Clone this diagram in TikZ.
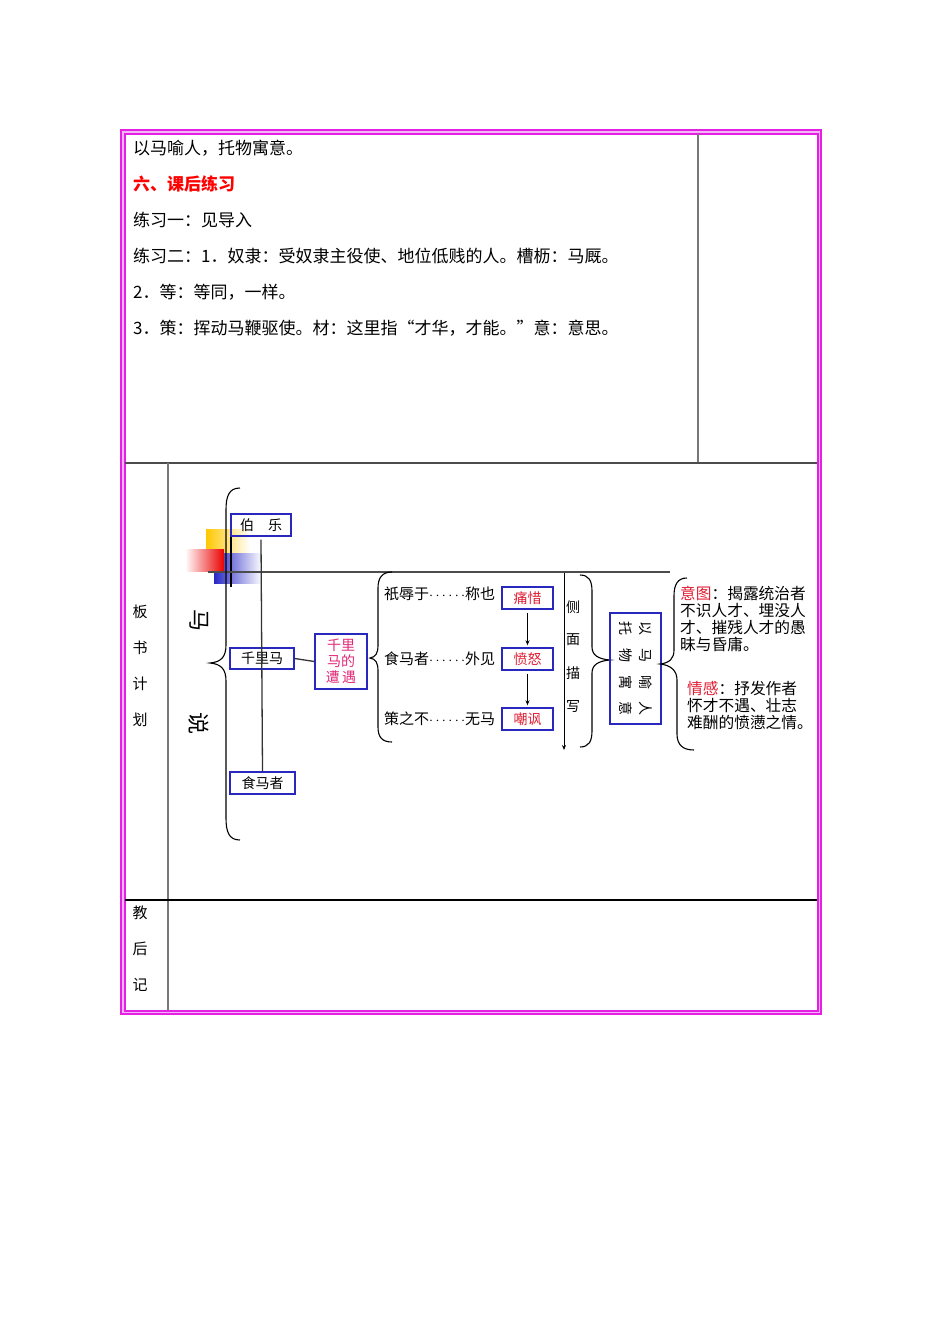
\documentclass[tikz,border=0pt]{standalone}
\usepackage{fontspec}
\setmainfont{Noto Sans CJK SC}
\usetikzlibrary{arrows.meta}
\definecolor{mag}{RGB}{228,32,228}
\definecolor{magl}{RGB}{245,180,245}
\definecolor{boxblue}{RGB}{40,40,190}
\definecolor{txtred}{RGB}{225,30,50}
\definecolor{pinkred}{RGB}{225,40,120}
\definecolor{gold}{RGB}{255,200,0}
\definecolor{sqred}{RGB}{235,0,0}
\definecolor{sqblue}{RGB}{40,40,200}
\definecolor{rulegray}{RGB}{120,120,120}
\newcommand{\dotsmid}{$\cdots\cdots$}
\tikzset{
  box/.style={draw=boxblue, line width=1.4pt, inner sep=0pt, font=\fontsize{14}{16}\selectfont},
  bodytext/.style={anchor=west, inner sep=0pt, font=\fontsize{17}{20}\selectfont},
  smalltext/.style={anchor=west, inner sep=0pt, font=\fontsize{15}{16}\selectfont},
  sidelabel/.style={inner sep=0pt, font=\fontsize{15}{18}\selectfont},
  brace/.style={draw=black, line width=1.1pt},
  conn/.style={draw=black!80, line width=1.3pt},
  arrowline/.style={draw=black, line width=0.9pt, -{Stealth[length=5pt,width=4pt]}}
}
\begin{document}
\begin{tikzpicture}[x=1pt,y=-1pt]
\useasboundingbox (0,0) rectangle (950,1344);
\fill[white] (0,0) rectangle (950,1344);

% ---------- table frame ----------
\fill[magl] (121,130) rectangle (821,1014);
\fill[white] (125,134) rectangle (817,1010);
\draw[mag, line width=1.6pt] (121,130) rectangle (821,1014);
\draw[mag, line width=2pt] (124.5,133.5) rectangle (817.5,1010.5);
\draw[rulegray, line width=1.2pt] (698,134) -- (698,463);
\draw[black!70, line width=1.2pt] (125,463) -- (817,463);
\draw[rulegray, line width=1.2pt] (168,463) -- (168,1010);
\draw[black, line width=1.2pt] (125,900) -- (817,900);

% ---------- top text ----------
\node[bodytext] (t1) at (133,148) {以马喻人，托物寓意。};
\node[bodytext, text=red, font=\fontsize{17}{20}\selectfont\bfseries] (t2) at (133,184) {六、课后练习};
\node[bodytext] (t3) at (133,220) {练习一：见导入};
\node[bodytext] (t4) at (133,256) {练习二：1．奴隶：受奴隶主役使、地位低贱的人。槽枥：马厩。};
\node[bodytext] (t5) at (133,292) {2．等：等同，一样。};
\node[bodytext] (t6) at (133,328) {3．策：挥动马鞭驱使。材：这里指“才华，才能。”意：意思。};

% ---------- side labels ----------
\node[sidelabel] (b1) at (140,612) {板};
\node[sidelabel] (b2) at (140,648) {书};
\node[sidelabel] (b3) at (140,684) {计};
\node[sidelabel] (b4) at (140,720) {划};
\node[sidelabel] (j1) at (140,913) {教};
\node[sidelabel] (j2) at (140,949) {后};
\node[sidelabel] (j3) at (140,985) {记};

% ---------- decorative squares ----------
\shade[left color=gold, right color=white] (206,529) rectangle (250,560);
\shade[left color=sqblue, right color=white] (214,553) rectangle (262,583);
\shade[left color=white, right color=sqred] (185,549) rectangle (224,571);
\draw[black, line width=2.4pt] (231,523) -- (231,587);
\draw[black!70, line width=1.6pt] (208,572) -- (670,572);

% ---------- big brace and title ----------
\draw[brace] (240,488) .. controls (229,488) and (226,496) .. (226,510) -- (226,645)
  .. controls (226,657) and (221,662) .. (210,663)
  .. controls (221,664) and (226,669) .. (226,681) -- (226,818)
  .. controls (226,832) and (229,840) .. (240,840);
\node[rotate=-90, inner sep=0pt, font=\fontsize{22}{24}\selectfont] (ma) at (199,620) {马};
\node[rotate=-90, inner sep=0pt, font=\fontsize{22}{24}\selectfont] (shuo) at (199,723) {说};

% ---------- left boxes ----------
\node[box, minimum width=60pt, minimum height=22pt] (bole) at (261,525) {伯\hspace{14pt}乐};
\node[box, minimum width=64pt, minimum height=21pt] (qlm) at (262,658.5) {千里马};
\node[box, minimum width=65pt, minimum height=22pt] (smz) at (262.5,783) {食马者};
\node[box, minimum width=52pt, minimum height=55pt, align=center, text=pinkred,
      font=\fontsize{14}{16}\selectfont] (zaoyu) at (341,661.5) {千里\\马的\\遭\,遇};
\draw[conn] ([yshift=-3pt]bole.south) -- (smz.north);
\draw[conn] (qlm.east) -- (zaoyu.west);

% ---------- second brace and quotes ----------
\draw[brace] (392,572) .. controls (382,572) and (378,578) .. (378,588) -- (378,645)
  .. controls (378,653) and (376,657) .. (370,658)
  .. controls (376,659) and (378,663) .. (378,671) -- (378,727)
  .. controls (378,737) and (382,742) .. (392,742);
\node[smalltext] (q1) at (384,594) {祇辱于\dotsmid 称也};
\node[smalltext] (q2) at (384,659) {食马者\dotsmid 外见};
\node[smalltext] (q3) at (384,719) {策之不\dotsmid 无马};

% ---------- emotion boxes ----------
\node[box, minimum width=51pt, minimum height=22pt, text=txtred] (tongxi) at (527.5,598) {痛惜};
\node[box, minimum width=51pt, minimum height=22pt, text=txtred] (fennu) at (527.5,659) {愤怒};
\node[box, minimum width=51pt, minimum height=22pt, text=txtred] (chaofeng) at (527.5,719) {嘲讽};
\draw[arrowline] ([yshift=-3pt]tongxi.south) -- ([yshift=2pt]fennu.north);
\draw[arrowline] ([yshift=-3pt]fennu.south) -- ([yshift=2pt]chaofeng.north);

% ---------- side description ----------
\coordinate (vtop) at (564,573);
\coordinate (vbot) at (564,750);
\draw[arrowline] (vtop) -- (vbot);
\node[sidelabel, font=\fontsize{14}{16}\selectfont] (c1) at (573,607) {侧};
\node[sidelabel, font=\fontsize{14}{16}\selectfont] (c2) at (573,640) {面};
\node[sidelabel, font=\fontsize{14}{16}\selectfont] (c3) at (573,673) {描};
\node[sidelabel, font=\fontsize{14}{16}\selectfont] (c4) at (573,706) {写};

% ---------- third brace ----------
\draw[brace] (580,575) .. controls (589,575) and (592,581) .. (592,591) -- (592,647)
  .. controls (592,655) and (598,659) .. (610,660)
  .. controls (598,661) and (592,665) .. (592,673) -- (592,731)
  .. controls (592,741) and (589,747) .. (580,747);

% ---------- rotated box ----------
\node[box, rotate=-90, minimum width=111pt, minimum height=51pt, align=center,
      font=\fontsize{14}{20}\selectfont] (yima) at (635.5,668.5)
  {以\hspace{13pt}马\hspace{13pt}喻\hspace{13pt}人\\托\hspace{13pt}物\hspace{13pt}寓\hspace{13pt}意};

% ---------- fourth brace ----------
\draw[brace] (687,578) .. controls (678,578) and (674,584) .. (674,596) -- (674,650)
  .. controls (674,658) and (670,663) .. (660,664)
  .. controls (670,665) and (677,670) .. (677,680) -- (677,734)
  .. controls (677,745) and (683,750) .. (694,750);

% ---------- right notes ----------
\node[anchor=north west, inner sep=0pt, align=left, font=\fontsize{15.7}{17}\selectfont] (yitu) at (680,586)
  {\textcolor{txtred}{意图}：揭露统治者\\不识人才、埋没人\\才、摧残人才的愚\\昧与昏庸。};
\node[anchor=north west, inner sep=0pt, align=left, font=\fontsize{15.7}{17}\selectfont] (qinggan) at (687,681)
  {\textcolor{txtred}{情感}：抒发作者\\怀才不遇、壮志\\难酬的愤懑之情。};
\end{tikzpicture}
\end{document}
